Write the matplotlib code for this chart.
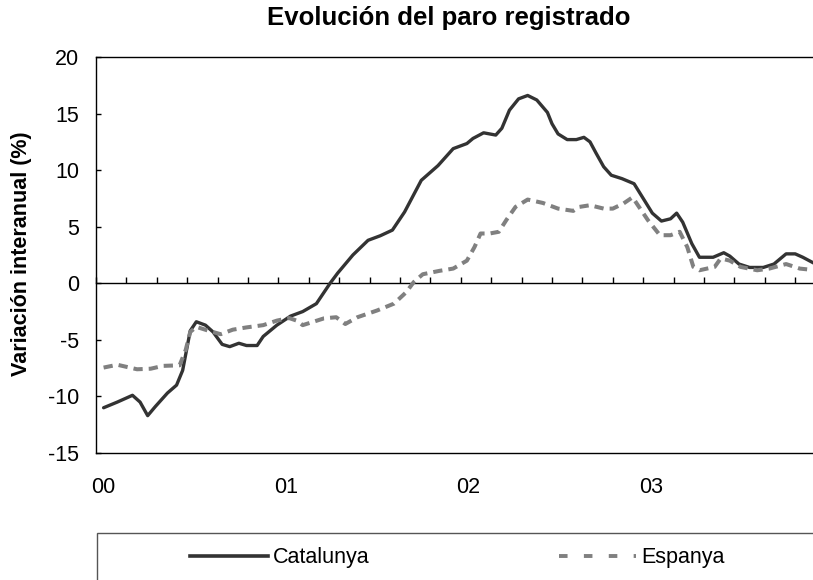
import numpy as np
import matplotlib
matplotlib.use("Agg")
import matplotlib.pyplot as plt
from matplotlib.lines import Line2D
from matplotlib.patches import Rectangle

plt.rcParams['font.family'] = ['Liberation Sans', 'DejaVu Sans']
plt.rcParams['axes.unicode_minus'] = False

# mes (0 = gener 2000), variació interanual (%)
cat_mes = [0.0, 0.9, 1.9, 2.4, 2.9, 3.4, 4.2, 4.8, 5.2, 5.5, 5.7, 6.1, 6.7, 7.2, 7.8,
           8.3, 8.9, 9.4, 10.1, 10.5, 11.4, 12.3, 13.1, 14.0, 14.9, 15.4, 16.4, 17.4,
           18.2, 19.0, 19.8, 20.9, 22.0, 23.0, 23.9, 24.3, 25.0, 25.8, 26.2, 26.7,
           27.3, 27.9, 28.5, 29.2, 29.5, 29.9, 30.5, 31.1, 31.6, 32.0, 32.4, 32.9,
           33.4, 34.1, 34.9, 35.5, 36.1, 36.7, 37.3, 37.7, 38.1, 38.7, 39.2, 40.1,
           40.8, 41.2, 41.8, 42.5, 43.4, 44.1, 44.9, 45.5, 46.0, 46.7, 47.0]
catalunya = [-11.0, -10.5, -9.9, -10.5, -11.7, -10.9, -9.7, -9.0, -7.7, -5.6, -4.2,
             -3.4, -3.7, -4.3, -5.4, -5.6, -5.3, -5.5, -5.5, -4.7, -3.7, -2.9, -2.5,
             -1.8, 0.0, 0.9, 2.5, 3.8, 4.2, 4.7, 6.3, 9.1, 10.4, 11.9, 12.35, 12.8,
             13.3, 13.1, 13.7, 15.3, 16.3, 16.6, 16.2, 15.1, 14.1, 13.2, 12.7, 12.7,
             12.9, 12.5, 11.5, 10.3, 9.55, 9.25, 8.8, 7.5, 6.2, 5.5, 5.7, 6.2, 5.4,
             3.5, 2.3, 2.3, 2.7, 2.4, 1.7, 1.4, 1.4, 1.7, 2.6, 2.6, 2.3, 1.8, 1.6]

esp_mes = [0.0, 0.9, 2.2, 3.1, 3.9, 5.0, 5.4, 5.7, 6.1, 6.8, 7.7, 8.5, 9.4, 10.5,
           11.4, 12.2, 12.7, 13.1, 14.5, 15.3, 15.9, 16.7, 18.0, 19.1, 19.9, 20.4,
           21.0, 22.1, 23.0, 23.9, 24.4, 24.8, 25.4, 26.0, 26.5, 27.1, 27.9, 28.9,
           29.9, 30.9, 31.3, 32.0, 32.9, 33.5, 34.2, 34.8, 35.3, 35.8, 36.6, 37.3,
           37.9, 38.4, 38.8, 39.2, 40.2, 40.6, 41.2, 41.9, 43.0, 43.8, 44.9, 45.8,
           46.5, 47.0]
espanya = [-7.45, -7.2, -7.6, -7.55, -7.3, -7.25, -5.9, -4.3, -3.85, -4.15, -4.5,
           -4.1, -3.9, -3.7, -3.3, -3.07, -3.3, -3.7, -3.1, -3.0, -3.6, -3.0, -2.4,
           -1.8, -0.8, 0.1, 0.8, 1.1, 1.3, 2.0, 3.2, 4.4, 4.4, 4.55, 5.6, 6.75, 7.4,
           7.1, 6.6, 6.4, 6.75, 6.9, 6.6, 6.6, 7.05, 7.6, 6.6, 5.6, 4.25, 4.25,
           4.55, 3.2, 1.45, 1.15, 1.45, 2.2, 2.0, 1.45, 1.15, 1.3, 1.7, 1.3, 1.2, 1.2]

anys = ['00', '01', '02', '03']

W, H = 813, 580
fig = plt.figure(figsize=(W / 100, H / 100), dpi=100)
# l'eix continua més enllà de la vora dreta (retallat com a l'original)
ax = fig.add_axes([96 / W, 1 - 453 / H, (825.6 - 96) / W, (453 - 57) / H])

ax.plot(cat_mes, catalunya, color='#333333', lw=2.4, solid_capstyle='round',
        solid_joinstyle='round')
ax.plot(esp_mes, espanya, color='#808080', lw=2.9, dashes=(2.3, 1.5),
        dash_capstyle='butt', dash_joinstyle='round')

ax.set_xlim(-0.5, 47.5)
ax.set_ylim(-15, 20)
ax.set_yticks(np.arange(-15, 25, 5))
ax.tick_params(axis='y', direction='in', length=3.6, width=1, labelsize=15.5, pad=12)
ax.set_xticks([12 * i for i in range(len(anys))])
ax.set_xticklabels(anys)
ax.tick_params(axis='x', length=0, labelsize=15.5, pad=17)
ax.spines['right'].set_visible(False)
for s in ['left', 'top', 'bottom']:
    ax.spines[s].set_linewidth(1.0)

# eix a zero amb marques cada dos mesos
zero = ax.secondary_xaxis(15 / 35)
zero.set_xticks(np.arange(-0.5, 48, 2))
zero.tick_params(direction='in', length=4.3, width=1, labelbottom=False, labeltop=False)
zero.spines['bottom'].set_linewidth(1.0)

fig.text(449 / W, 1 - 18 / H, 'Evolución del paro registrado', ha='center',
         va='center', fontsize=18.5, fontweight='bold')
fig.text(22 / W, 1 - 254 / H, 'Variación interanual (%)', ha='center', va='center',
         rotation=90, fontsize=15.5, fontweight='bold')

# caixa de la llegenda
fig.add_artist(Rectangle((97 / W, -0.1), 1, 0.1 + (580 - 533) / H,
                         transform=fig.transFigure, fill=False,
                         edgecolor='#555555', lw=1.0))
handles = [Line2D([], [], color='#333333', lw=2.6),
           Line2D([], [], color='#808080', lw=2.8, dashes=(2.2, 4.2),
                  dash_capstyle='butt')]
fig.legend(handles, ['Catalunya', 'Espanya'], loc='center left',
           bbox_to_anchor=(190 / W, 1 - 558 / H), ncol=2, frameon=False,
           fontsize=15.5, handlelength=3.6, handletextpad=0.23,
           columnspacing=8.8, borderpad=0, borderaxespad=0)

fig.savefig('out.png', dpi=100)
